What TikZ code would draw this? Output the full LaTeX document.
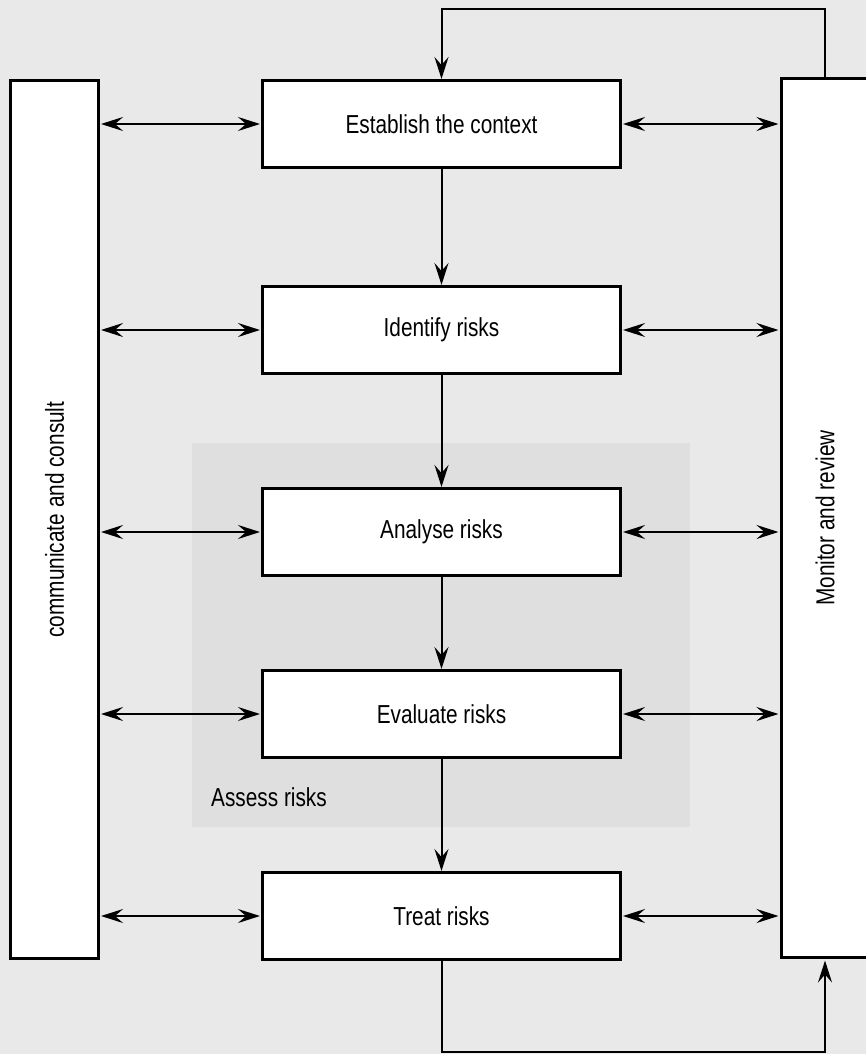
\documentclass[tikz,border=0pt]{standalone}
\usepackage{fontspec}
\setmainfont{Liberation Sans}[FakeStretch=0.8]
\usetikzlibrary{positioning,arrows.meta}

\definecolor{bgfill}{HTML}{E9E9E9}
\definecolor{assessfill}{HTML}{DFDFDF}

\begin{document}
\begin{tikzpicture}[x=1pt, y=-1pt, node distance=200pt, on grid,
    stage/.style={draw, line width=3pt, fill=white, minimum width=358pt, minimum height=87pt,
        font=\fontsize{26}{31}\selectfont},
    side/.style={draw, line width=3pt, fill=white, rotate=90, minimum height=88pt,
        minimum width=878pt, font=\fontsize{26}{31}\selectfont},
    link/.style={line width=2pt, -{Stealth[length=22pt, width=14pt, inset=8pt]}},
    both/.style={line width=2pt, {Stealth[length=22pt, width=14pt, inset=8pt]}-{Stealth[length=22pt, width=14pt, inset=8pt]}}]

    \useasboundingbox (0,0) rectangle (866,1054);
    \fill[bgfill] (0,0) rectangle (866,1054);

    % assess risks area
    \fill[assessfill] (192,443) rectangle (690,827);
    \node[anchor=base west, inner sep=0pt, font=\fontsize{26}{31}\selectfont] (assess) at (211,806) {Assess risks};

    \node[stage] (ctx) at (441.5,124) {Establish the context};
    \node[stage] (ident) [below=206pt of ctx] {Identify risks};
    \node[stage] (analyse) [below=202pt of ident] {Analyse risks};
    \node[stage] (evaluate) [below=182pt of analyse] {Evaluate risks};
    \node[stage] (treat) [below=202pt of evaluate] {Treat risks};

    \node[side] (comm) at (54.5,519.5) {communicate and consult};
    \node[side] (monitor) at (825,518) {Monitor and review};

    \coordinate (topturn) at (825,9);
    \coordinate (botturn) at (825,1052);

    \path[link]
        (ctx) edge (ident)
        (ident) edge (analyse)
        (analyse) edge (evaluate)
        (evaluate) edge (treat);

    \foreach \s in {ctx, ident, analyse, evaluate, treat} {
        \path[both, shorten <=1pt, shorten >=1pt]
            (comm.south |- \s.west) edge (\s.west)
            (\s.east) edge (monitor.north |- \s.east);
    }

    % feedback loop
    \draw[link] (monitor.east -| topturn) -- (topturn) -| (ctx.north);
    \draw[link, shorten >=2pt] (treat.south) |- (botturn) -- (monitor.west -| botturn);

\end{tikzpicture}
\end{document}
